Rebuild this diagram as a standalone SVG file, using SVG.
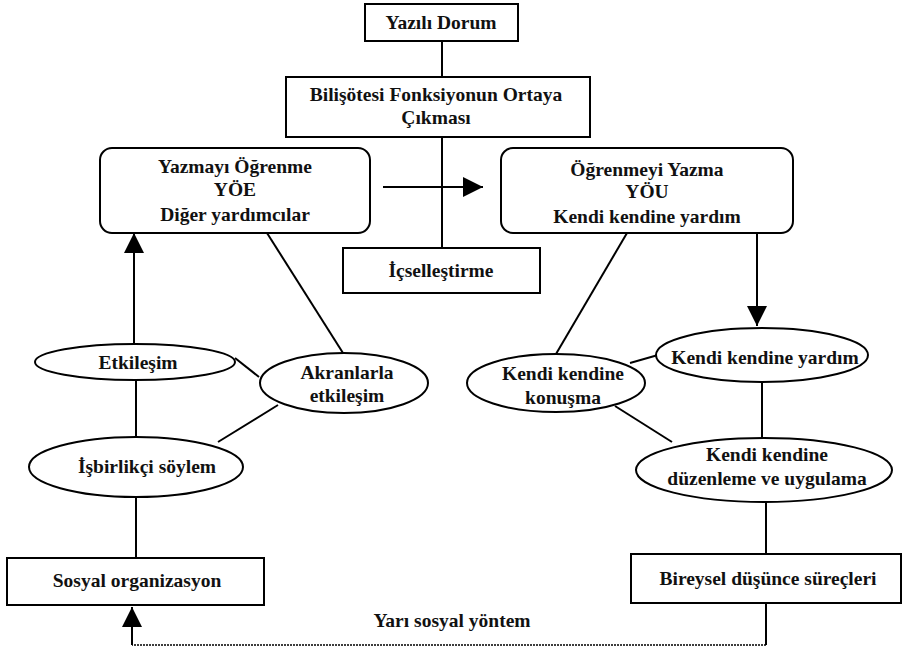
<svg xmlns="http://www.w3.org/2000/svg" width="903" height="654" viewBox="0 0 903 654">
<style>
.n{fill:#fff;stroke:#000;stroke-width:2}
.t{font-family:"Liberation Serif","Times New Roman",serif;font-size:19.5px;font-weight:bold;fill:#111;text-anchor:middle;dominant-baseline:central}
.c{stroke:#000;stroke-width:2;fill:none}
.d{stroke:#000;stroke-width:1.6;fill:none;stroke-dasharray:2 1}
</style>
<defs>
<marker id="ah" viewBox="0 0 20 20" refX="20" refY="10" markerWidth="20" markerHeight="20" markerUnits="userSpaceOnUse" orient="auto">
<path d="M0,0 L20,10 L0,20 Z" fill="#000"/>
</marker>
</defs>
<rect width="903" height="654" fill="#fff"/>
<g id="connectors">
<line class="c" x1="442" y1="41" x2="442" y2="77"/>
<line class="c" x1="442" y1="137" x2="442" y2="248"/>
<line class="c" x1="383" y1="187" x2="483" y2="187" marker-end="url(#ah)"/>
<line class="c" x1="134" y1="345" x2="134" y2="233" marker-end="url(#ah)"/>
<line class="c" x1="136" y1="380" x2="136" y2="437"/>
<line class="c" x1="235" y1="358" x2="259" y2="377"/>
<line class="c" x1="267" y1="233" x2="343" y2="353"/>
<line class="c" x1="278" y1="405" x2="218" y2="442"/>
<line class="c" x1="136" y1="497" x2="136" y2="558"/>
<line class="c" x1="757" y1="233" x2="757" y2="326" marker-end="url(#ah)"/>
<line class="c" x1="627" y1="233" x2="556" y2="354"/>
<line class="c" x1="630" y1="363" x2="658" y2="355"/>
<line class="c" x1="615" y1="406" x2="672" y2="442"/>
<line class="c" x1="762" y1="382" x2="762" y2="438"/>
<line class="c" x1="766" y1="502" x2="766" y2="554"/>
<line class="c" x1="766" y1="603" x2="766" y2="645"/>
<line class="d" x1="766" y1="645" x2="132" y2="645"/>
<line class="c" x1="132" y1="645" x2="132" y2="607" marker-end="url(#ah)"/>
<text class="t" x="452" y="620">Yarı sosyal yöntem</text>
</g>
<g id="yazili-durum">
<rect class="n" x="365" y="4" width="153" height="37"/>
<text class="t" x="441" y="22">Yazılı Dorum</text>
</g>
<g id="bilisotesi">
<rect class="n" x="286" y="77" width="304" height="60"/>
<text class="t" x="436" y="94">Bilişötesi Fonksiyonun Ortaya</text>
<text class="t" x="436" y="117">Çıkması</text>
</g>
<g id="yoe">
<rect class="n" x="100" y="148" width="270" height="85" rx="12"/>
<text class="t" x="235" y="166">Yazmayı Öğrenme</text>
<text class="t" x="235" y="189">YÖE</text>
<text class="t" x="235" y="214">Diğer yardımcılar</text>
</g>
<g id="you">
<rect class="n" x="501" y="148" width="292" height="85" rx="12"/>
<text class="t" x="647" y="169">Öğrenmeyi Yazma</text>
<text class="t" x="647" y="191">YÖU</text>
<text class="t" x="647" y="216">Kendi kendine yardım</text>
</g>
<g id="icsellestirme">
<rect class="n" x="343" y="248" width="197" height="45"/>
<text class="t" x="441" y="270">İçselleştirme</text>
</g>
<g id="etkilesim">
<ellipse class="n" cx="135" cy="362" rx="100" ry="18"/>
<text class="t" x="138" y="362">Etkileşim</text>
</g>
<g id="akranlarla">
<ellipse class="n" cx="344" cy="383" rx="84" ry="30"/>
<text class="t" x="347" y="372">Akranlarla</text>
<text class="t" x="347" y="395">etkileşim</text>
</g>
<g id="isbirlikci">
<ellipse class="n" cx="136" cy="467" rx="107" ry="30"/>
<text class="t" x="147" y="466">İşbirlikçi söylem</text>
</g>
<g id="sosyal">
<rect class="n" x="7" y="558" width="257" height="47"/>
<text class="t" x="137" y="580">Sosyal organizasyon</text>
</g>
<g id="konusma">
<ellipse class="n" cx="556" cy="383" rx="89" ry="29"/>
<text class="t" x="563" y="373">Kendi kendine</text>
<text class="t" x="563" y="397">konuşma</text>
</g>
<g id="yardim">
<ellipse class="n" cx="762" cy="355" rx="106" ry="27"/>
<text class="t" x="765" y="357">Kendi kendine yardım</text>
</g>
<g id="duzenleme">
<ellipse class="n" cx="764" cy="470" rx="128" ry="32"/>
<text class="t" x="767" y="454">Kendi kendine</text>
<text class="t" x="767" y="478">düzenleme ve uygulama</text>
</g>
<g id="bireysel">
<rect class="n" x="631" y="554" width="270" height="49"/>
<text class="t" x="768" y="578">Bireysel düşünce süreçleri</text>
</g>
</svg>
